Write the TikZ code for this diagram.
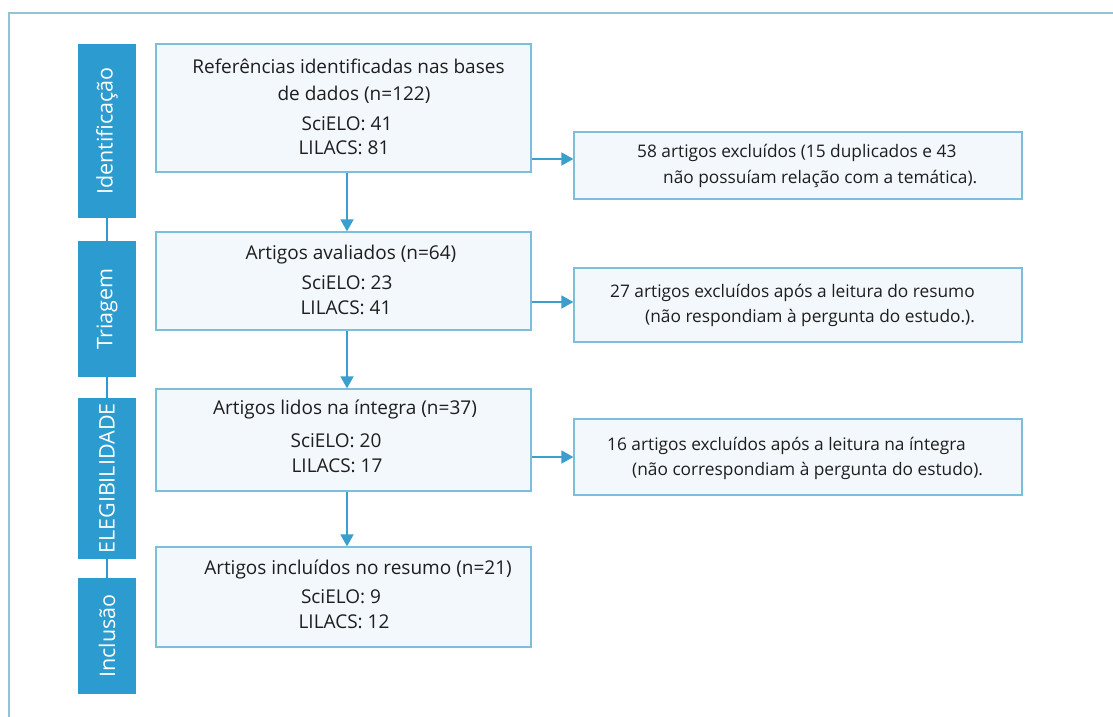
\documentclass[tikz,border=0pt]{standalone}
\usepackage{fontspec}
\setmainfont{Open Sans}
\usetikzlibrary{arrows.meta}
\definecolor{barblue}{HTML}{2B9BD0}
\definecolor{boxline}{HTML}{7DBFDA}
\definecolor{boxfill}{HTML}{F3F8FC}
\definecolor{arrblue}{HTML}{3A9FCC}
\definecolor{framec}{HTML}{8EC5D8}
\definecolor{txt}{HTML}{1E1E1E}
\tikzset{
  bar/.style={rectangle, fill=barblue, text=white, inner sep=0pt, minimum height=58pt,
     font=\fontsize{21.5}{24}\selectfont, rotate=90},
  mainbox/.style={rectangle, draw=boxline, fill=boxfill, line width=1.3pt, inner sep=0pt, minimum width=375pt},
  sidebox/.style={rectangle, draw=boxline, fill=boxfill, line width=1.3pt, inner sep=0pt, minimum width=448pt},
  mtext/.style={anchor=base, inner sep=0pt, text=txt, font=\fontsize{19}{22}\selectfont},
  stext/.style={anchor=base west, inner sep=0pt, text=txt, font=\fontsize{17.3}{21}\selectfont},
  arr/.style={draw=arrblue, line width=1.7pt, -{Triangle[width=13pt,length=12pt]}},
  barlink/.style={draw=barblue, line width=1.6pt},
  frameline/.style={draw=framec, line width=1.4pt}
}
\begin{document}
\begin{tikzpicture}[x=1pt,y=1pt]
\useasboundingbox[fill=white] (0,0) rectangle (1113,-716);
\clip (0,0) rectangle (1113,-716);
\draw[frameline] (9,-13) rectangle (1130,-740);

% phase bars
\node[bar, minimum width=174pt] (bar1) at (107,-131) {Identificação};
\node[bar, minimum width=136pt] (bar2) at (107,-309) {Triagem};
\node[bar, minimum width=161pt] (bar3) at (107,-478.5) {ELEGIBILIDADE};
\node[bar, minimum width=116pt] (bar4) at (107,-636) {Inclusão};
\draw[barlink] (bar1.west) -- (bar2.east);
\draw[barlink] (bar2.west) -- (bar3.east);
\draw[barlink] (bar3.west) -- (bar4.east);

% main boxes
\node[mainbox, minimum height=128pt] (b1) at (343.5,-108) {};
\node[mainbox, minimum height=98pt] (b2) at (343.5,-281) {};
\node[mainbox, minimum height=102pt] (b3) at (343.5,-440) {};
\node[mainbox, minimum height=100pt] (b4) at (343.5,-597) {};

\node[mtext] (t1a) at (348.5,-73) {Referências identificadas nas bases};
\node[mtext] (t1b) at (354,-100) {de dados (n=122)};
\node[mtext] (t1c) at (347,-130) {SciELO: 41};
\node[mtext] (t1d) at (344,-154) {LILACS: 81};

\node[mtext] (t2a) at (351,-259) {Artigos avaliados (n=64)};
\node[mtext] (t2b) at (347,-289) {SciELO: 23};
\node[mtext] (t2c) at (346,-314) {LILACS: 41};

\node[mtext] (t3a) at (345,-414) {Artigos lidos na íntegra (n=37)};
\node[mtext] (t3b) at (336,-447) {SciELO: 20};
\node[mtext] (t3c) at (337,-472) {LILACS: 17};

\node[mtext] (t4a) at (358,-574) {Artigos incluídos no resumo (n=21)};
\node[mtext] (t4b) at (341,-603) {SciELO: 9};
\node[mtext] (t4c) at (344,-628) {LILACS: 12};

% side boxes
\node[sidebox, minimum height=67pt] (r1) at (798,-165.5) {};
\node[sidebox, minimum height=74pt] (r2) at (798,-305) {};
\node[sidebox, minimum height=76pt] (r3) at (798,-457) {};

\node[stext] (s1a) at (637,-157) {58 artigos excluídos (15 duplicados e 43};
\node[stext] (s1b) at (663,-183) {não possuíam relação com a temática).};
\node[stext] (s2a) at (610,-297) {27 artigos excluídos após a leitura do resumo};
\node[stext] (s2b) at (645,-322) {(não respondiam à pergunta do estudo.).};
\node[stext] (s3a) at (607,-450) {16 artigos excluídos após a leitura na íntegra};
\node[stext] (s3b) at (632,-475) {(não correspondiam à pergunta do estudo).};

% arrows
\coordinate (ax) at (347,0);
\draw[arr] (b1.south -| ax) -- (b2.north -| ax);
\draw[arr] (b2.south -| ax) -- (b3.north -| ax);
\draw[arr] (b3.south -| ax) -- (b4.north -| ax);

\coordinate (h1) at (0,-159);
\coordinate (h2) at (0,-302);
\coordinate (h3) at (0,-457);
\draw[arr] (h1 -| b1.east) -- (h1 -| r1.west);
\draw[arr] (h2 -| b2.east) -- (h2 -| r2.west);
\draw[arr] (h3 -| b3.east) -- (h3 -| r3.west);
\end{tikzpicture}
\end{document}
